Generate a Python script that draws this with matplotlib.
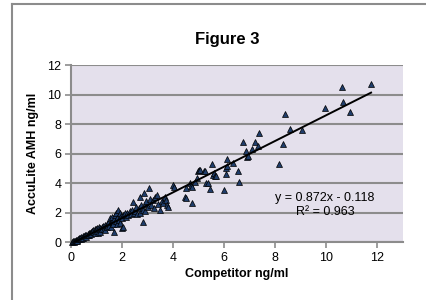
import matplotlib.pyplot as plt
from matplotlib.lines import Line2D

plt.rcParams['font.family'] = ['Liberation Sans', 'DejaVu Sans']

# competitor (x) vs AccuLite AMH (y), ng/ml
competitor = [
    0.05, 0.08, 0.10, 0.12, 0.15, 0.18, 0.20, 0.22, 0.25, 0.28, 0.30, 0.32,
    0.35, 0.38, 0.40, 0.42, 0.45, 0.48, 0.50, 0.55, 0.58, 0.60, 0.65, 0.68,
    0.70, 0.72, 0.75, 0.78, 0.80, 0.82, 0.85, 0.88, 0.90, 0.92, 0.95, 0.98,
    1.00, 1.02, 1.05, 1.08, 1.10, 1.12, 1.15, 1.20, 1.22, 1.25, 1.30, 1.32,
    1.35, 1.40, 1.42, 1.45, 1.50, 1.52, 1.55, 1.58, 1.60, 1.62, 1.65, 1.68,
    1.70, 1.72, 1.75, 1.78, 1.80, 1.82, 1.85, 1.88, 1.90, 1.92, 1.95, 1.98,
    2.00, 2.04, 2.05, 2.10, 2.15, 2.20, 2.25, 2.30, 2.35, 2.40, 2.43, 2.45,
    2.50, 2.55, 2.60, 2.65, 2.70, 2.72, 2.75, 2.80, 2.82, 2.85, 2.88, 2.90,
    2.95, 3.00, 3.06, 3.10, 3.15, 3.20, 3.25, 3.28, 3.35, 3.40, 3.48, 3.55,
    3.60, 3.67, 3.70, 3.74, 3.80, 4.00, 4.02, 4.45, 4.52, 4.52, 4.65, 4.71,
    4.75, 4.75, 4.84, 4.93, 4.97, 5.01, 5.04, 5.20, 5.23, 5.30, 5.35, 5.43,
    5.54, 5.56, 5.59, 5.65, 5.69, 6.00, 6.05, 6.08, 6.09, 6.12, 6.34, 6.54,
    6.56, 6.73, 6.86, 6.90, 6.93, 7.10, 7.21, 7.32, 7.38, 8.14, 8.31, 8.39,
    8.59, 9.04, 9.93, 10.60, 10.66, 10.91, 11.75,
]
acculite = [
    0.00, 0.05, 0.02, 0.10, 0.05, 0.12, 0.08, 0.15, 0.10, 0.20, 0.18, 0.25,
    0.30, 0.22, 0.35, 0.28, 0.40, 0.30, 0.38, 0.45, 0.35, 0.50, 0.48, 0.55,
    0.60, 0.45, 0.62, 0.70, 0.55, 0.75, 0.65, 0.80, 0.70, 0.85, 0.60, 0.90,
    0.75, 0.95, 0.60, 0.88, 1.00, 0.70, 0.95, 1.05, 0.85, 1.10, 0.90, 1.15,
    0.80, 1.20, 1.00, 1.30, 1.10, 1.60, 1.35, 1.00, 1.45, 1.70, 1.25, 1.55,
    0.70, 1.80, 1.40, 1.95, 1.20, 1.65, 2.17, 1.50, 1.95, 1.30, 1.75, 0.93,
    1.60, 1.04, 1.85, 1.95, 1.70, 2.00, 1.85, 2.10, 1.90, 2.20, 2.73, 1.95,
    2.10, 2.40, 1.90, 2.30, 3.07, 2.00, 2.50, 2.20, 1.38, 3.30, 2.60, 2.10,
    2.80, 2.40, 3.64, 2.90, 2.50, 2.85, 2.30, 3.07, 3.19, 2.60, 2.17, 2.80,
    2.65, 3.07, 2.85, 2.51, 2.39, 3.86, 3.75, 3.07, 3.64, 2.96, 3.98, 3.80,
    2.62, 3.70, 4.09, 4.32, 4.81, 4.88, 4.88, 4.83, 4.81, 4.02, 4.02, 3.59,
    5.27, 4.54, 4.66, 4.47, 4.49, 3.53, 4.61, 5.00, 5.63, 5.17, 5.33, 4.83,
    4.05, 6.80, 6.19, 5.78, 5.83, 6.28, 6.76, 6.51, 7.37, 5.27, 6.62, 8.66,
    7.66, 7.57, 9.10, 10.49, 9.51, 8.79, 10.69,
]

# trendline as printed on the chart
slope = 0.872
intercept = -0.118
eq_text = "y = 0.872x - 0.118\nR\u00b2 = 0.963"

x_ticks = [0, 2, 4, 6, 8, 10, 12]
y_ticks = [0, 2, 4, 6, 8, 10, 12]

grid_grey = '#8c8c8c'

fig = plt.figure(figsize=(4.27, 3.0), dpi=100)
ax = fig.add_axes([0.1663, 0.1933, 0.7775, 0.59])
ax.set_facecolor('#e4e0ec')

ax.plot(competitor, acculite, '^', color='#1f3d6b', markeredgecolor='black',
        markeredgewidth=0.5, markersize=5, linestyle='none', clip_on=False, zorder=3)

x_line = [0, max(competitor)]
y_line = [slope * v + intercept for v in x_line]
ax.plot(x_line, y_line, color='black', linewidth=1.4, zorder=4)

ax.text(9.95, 2.5, eq_text, ha='center', va='center', fontsize=9, linespacing=1.15,
        zorder=5)

ax.set_xlim(0, 13)
ax.set_ylim(0, 12)
ax.set_xticks(x_ticks)
ax.set_yticks(y_ticks)
ax.yaxis.grid(True, color=grid_grey, linewidth=1.5)
ax.set_axisbelow(True)
for side in ['top', 'right']:
    ax.spines[side].set_visible(False)
for side in ['left', 'bottom']:
    ax.spines[side].set_color(grid_grey)
    ax.spines[side].set_linewidth(1.5)
ax.tick_params(axis='both', direction='out', length=4, width=1.2, color=grid_grey,
               labelsize=9, pad=3)

ax.set_xlabel('Competitor ng/ml', fontsize=9, fontweight='bold', labelpad=3)
ax.set_ylabel('AccuLite AMH ng/ml', fontsize=9, fontweight='bold', labelpad=6)
fig.text(0.532, 0.867, 'Figure 3', ha='center', va='center', fontsize=12,
         fontweight='bold')

# outer frame of the chart box (left and top edges only are visible)
fig.add_artist(Line2D([0.029, 0.029], [0.0, 0.987], color='#8c8c8c', linewidth=1.5,
                      transform=fig.transFigure))
fig.add_artist(Line2D([0.029, 1.0], [0.987, 0.987], color='#8c8c8c', linewidth=1.5,
                      transform=fig.transFigure))

fig.savefig('out.png', dpi=100)
